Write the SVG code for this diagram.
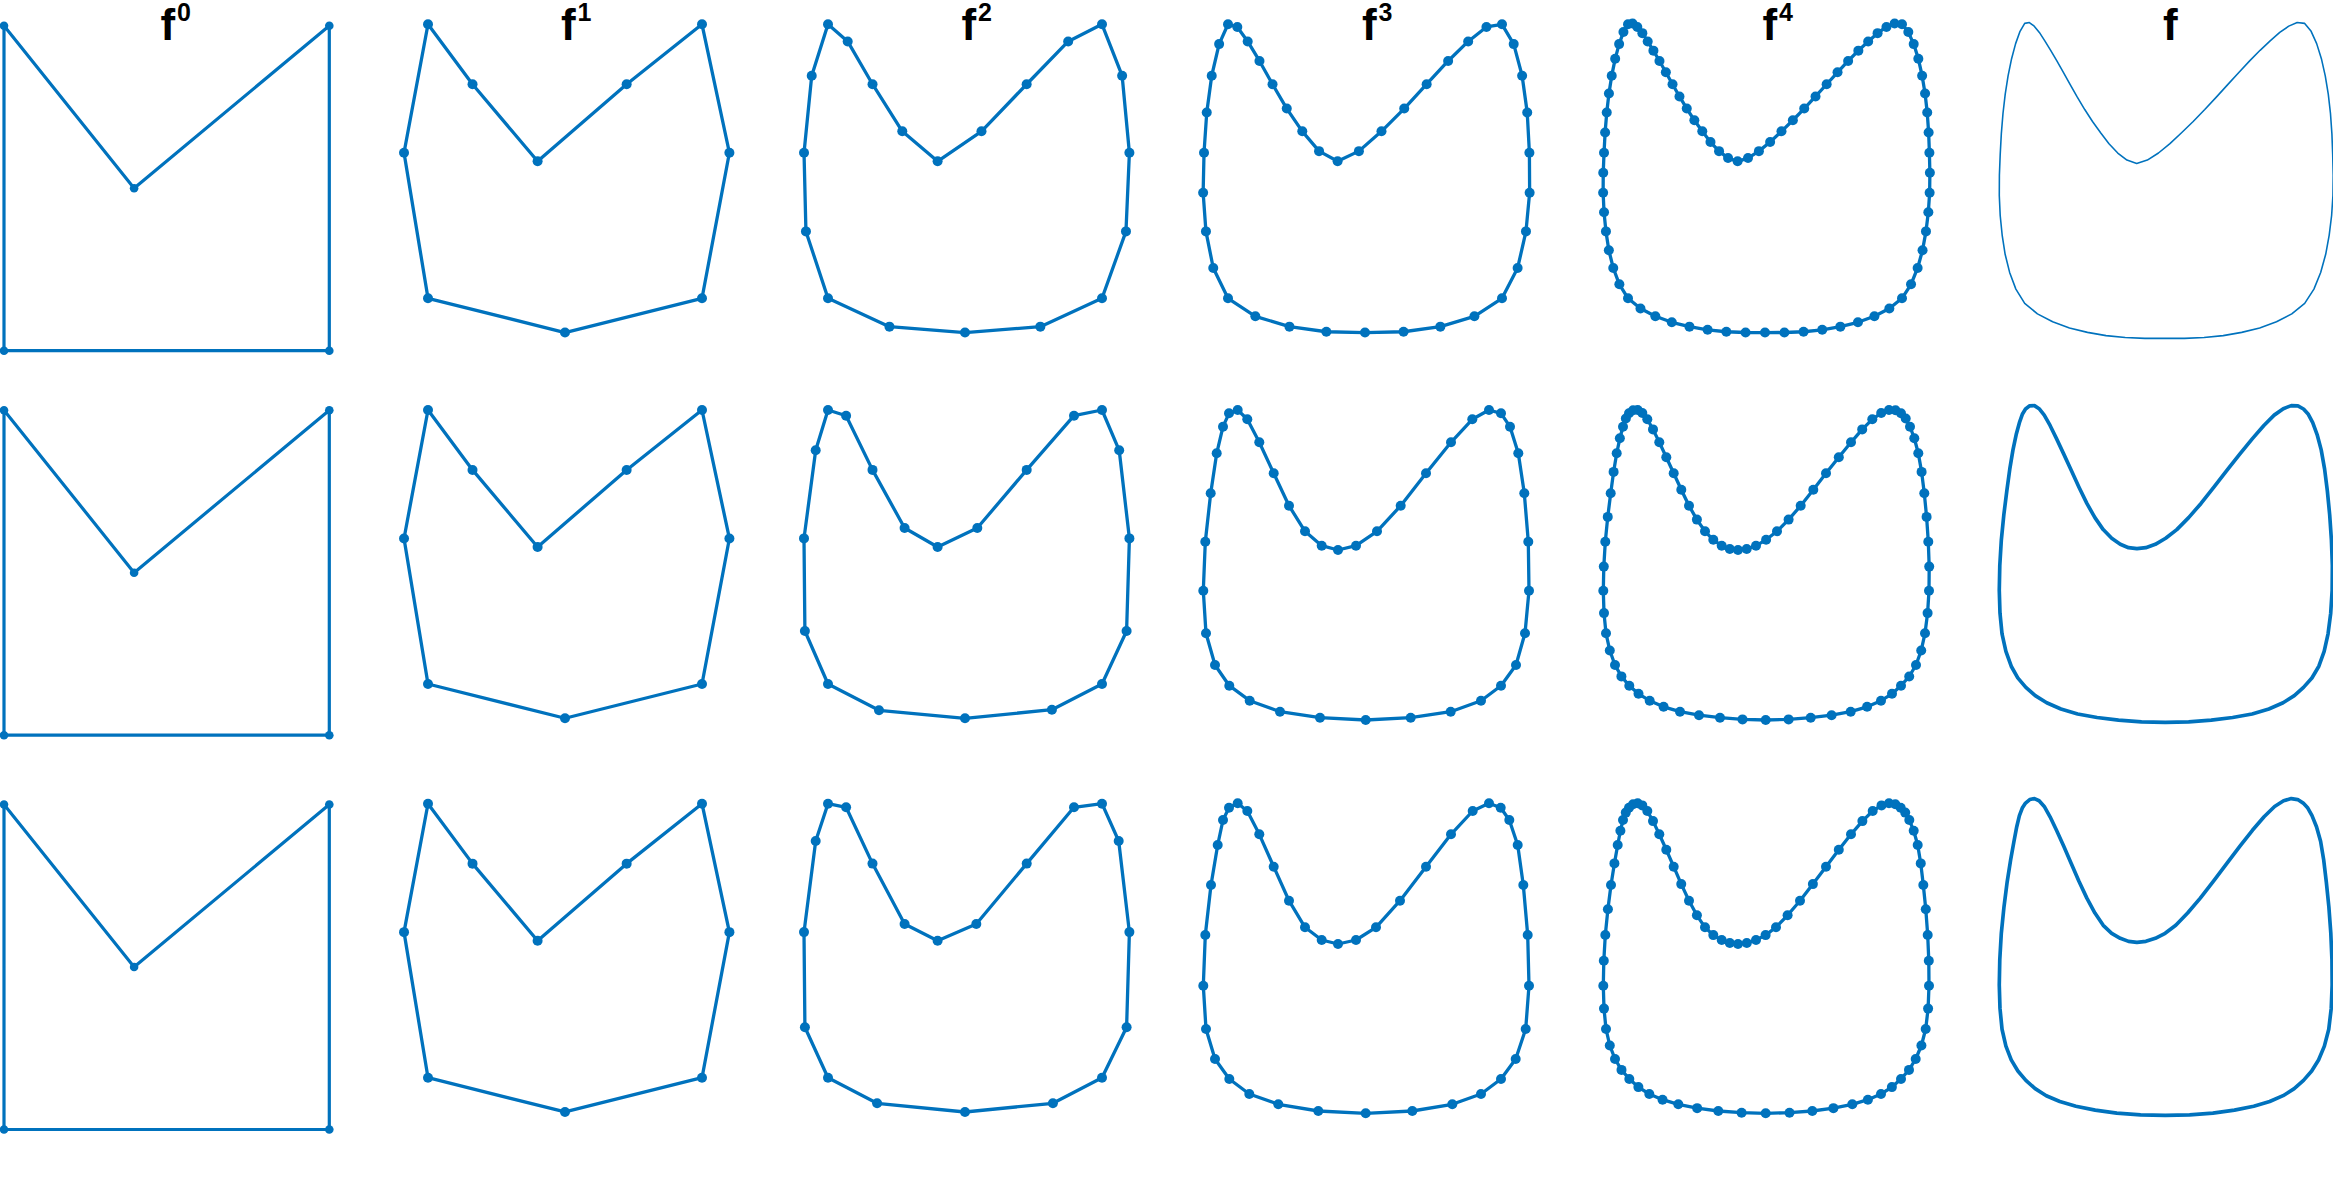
<svg xmlns="http://www.w3.org/2000/svg" width="2333" height="1200" viewBox="0 0 2333 1200">
<style>
.c0{fill:none;stroke:#0072BD;stroke-linejoin:round;stroke-width:3.2;marker-start:url(#d0);marker-mid:url(#d0)}
.c{fill:none;stroke:#0072BD;stroke-linejoin:round;stroke-width:3.3;marker-start:url(#dp);marker-mid:url(#dp)}
.cs{fill:none;stroke:#0072BD;stroke-linejoin:round;stroke-width:1.927;marker-start:url(#ds);marker-mid:url(#ds)}
.l1{fill:none;stroke:#0072BD;stroke-linejoin:round;stroke-width:0.9}
.l2{fill:none;stroke:#0072BD;stroke-linejoin:round;stroke-width:3.6}
.t{font-family:'Liberation Sans',Arial,Helvetica,sans-serif;font-weight:bold;fill:#000}
.big{font-size:44px}
.sup{font-size:25px}
</style>
<defs>
<marker id="d0" viewBox="0 0 12 12" refX="6" refY="6" markerWidth="12" markerHeight="12" markerUnits="userSpaceOnUse"><circle cx="6" cy="6" r="4.3" fill="#0072BD"/></marker>
<marker id="dp" viewBox="0 0 12 12" refX="6" refY="6" markerWidth="12" markerHeight="12" markerUnits="userSpaceOnUse"><circle cx="6" cy="6" r="5" fill="#0072BD"/></marker>
<marker id="ds" viewBox="0 0 12 12" refX="6" refY="6" markerWidth="7.007" markerHeight="7.007" markerUnits="userSpaceOnUse"><circle cx="6" cy="6" r="5" fill="#0072BD"/></marker>
<polygon id="p0" points="4,25.7 134.1,188.2 329.3,25.7 329.3,350.7 4,350.7"/>
<polygon id="p1" points="0,160 26,125 64,80 116,125 160,160 176,85 160,0 80,-20 0,0 -14,85"/>
<polygon id="p2" points="0,160 11.5,150 26,125 43.38,97.5 64,80 89.63,97.5 116,125 140.25,150 160,160 171.75,130 176,85 174,39.06 160,0 124,-16.56 80,-20 35.88,-16.56 0,0 -12.88,39.06 -14,85 -9.5,130"/>
<polygon id="p3" points="0,160 5.44,158.44 11.5,150 18.38,138.59 26,125 34.31,110.78 43.38,97.5 53.17,85.94 64,80 76.45,85.94 89.63,97.5 102.9,110.78 116,125 128.54,138.59 140.25,150 150.91,158.44 160,160 166.84,148.44 171.75,130 174.73,108.5 176,85 176.14,61.66 174,39.06 169.13,17.7 160,0 143.88,-10.51 124,-16.56 102.51,-19.53 80,-20 57.43,-19.53 35.88,-16.56 15.98,-10.51 0,0 -8.61,17.7 -12.88,39.06 -14.52,61.66 -14,85 -12.41,108.5 -9.5,130 -5.19,148.44"/>
<polygon id="p4" points="0,160 2.66,160.47 5.44,158.44 8.38,154.83 11.5,150 14.84,144.62 18.38,138.59 22.1,131.97 26,125 30.06,117.87 34.31,110.78 38.75,103.97 43.38,97.5 48.16,91.26 53.17,85.94 58.42,81.88 64,80 70.08,81.88 76.45,85.94 82.99,91.26 89.63,97.5 96.27,103.97 102.9,110.78 109.5,117.87 116,125 122.36,131.97 128.54,138.59 134.51,144.62 140.25,150 145.74,154.83 150.91,158.44 155.69,160.47 160,160 163.68,155.47 166.84,148.44 169.54,139.84 171.75,130 173.47,119.56 174.73,108.5 175.55,96.86 176,85 176.28,73.27 176.14,61.66 175.38,50.24 174,39.06 172,28.07 169.13,17.7 165.27,8.17 160,0 152.61,-5.98 143.88,-10.51 134.27,-14.01 124,-16.56 113.42,-18.4 102.51,-19.53 91.32,-19.98 80,-20 68.66,-19.98 57.43,-19.53 46.49,-18.4 35.88,-16.56 25.58,-14.01 15.98,-10.51 7.29,-5.98 0,0 -5.04,8.17 -8.61,17.7 -11.18,28.07 -12.88,39.06 -14,50.24 -14.52,61.66 -14.46,73.27 -14,85 -13.36,96.86 -12.41,108.5 -11.13,119.56 -9.5,130 -7.49,139.84 -5.19,148.44 -2.66,155.47"/>
<polygon id="q3b" points="29,13.3 37.7,10 47.3,19.3 59.3,42.3 73.7,73.3 89,105.7 105,131.3 121.7,145.7 138,150 156,145.7 177,131.3 200.7,105.7 226,73.3 251,42.3 272.3,19.3 289,10 301,13.3 310,26.7 318.3,53.3 324.3,93.3 328.3,141.7 329,190.7 325,233.3 316,265 301,285.7 281,300.7 250.7,311.7 210.7,317.7 165.7,320 120,317.7 80,311.7 49.7,300.7 29.3,285.7 15,265 6,233.3 3.3,190.7 5.3,141.7 10.7,93.3 16.7,53.3 23,26.7"/>
<polygon id="q4b" points="29,13.3 33.1,10.2 37.7,10 42.3,13 47.3,19.3 53,29.4 59.3,42.3 66.3,57.2 73.7,73.3 81.3,89.8 89,105.7 96.9,119.6 105,131.3 113.3,139.8 121.7,145.7 129.8,149 138,150 146.7,149 156,145.7 166.1,139.8 177,131.3 188.6,119.6 200.7,105.7 213.3,89.8 226,73.3 238.8,57.2 251,42.3 262.2,29.4 272.3,19.3 281.2,13 289,10 295.5,10.2 301,13.3 305.7,18.5 310,26.7 314.3,38.3 318.3,53.3 321.6,71.9 324.3,93.3 326.6,116.9 328.3,141.7 329.2,166.6 329,190.7 327.6,213.1 325,233.3 321.2,250.5 316,265 309.2,276.5 301,285.7 292,293.8 281,300.7 267.1,306.8 250.7,311.7 231.6,315.2 210.7,317.7 188.6,319.4 165.7,320 142.5,319.4 120,317.7 99,315.2 80,311.7 63.6,306.8 49.7,300.7 38.5,293.8 29.3,285.7 21.4,276.4 15,265 9.8,250.5 6,233.3 4,213.1 3.3,190.7 3.8,166.6 5.3,141.7 7.75,116.9 10.7,93.3 13.6,71.9 16.7,53.3 19.85,38.3 23,26.7 25.85,18.5"/>
<polygon id="q3c" points="29,17.7 37.7,13.3 47.3,21 59.3,44.3 73.7,76.7 89,110.7 105,137.3 121.7,150 138,154 156,150 176,137.3 200,110.7 226,76.7 251,44.3 272.7,21 289,13.3 300.7,17.7 309.3,30 317.7,55 323.3,95 327.7,145 329,195.7 325.7,239 315.7,269 301,289 281,304 252.3,314.3 212.3,321 165.7,323.3 118.3,321 78.3,314.3 49.3,304 29.3,289 15,269 6,239 3.3,195.7 5.3,145 11,95 17.7,55 23,30"/>
<polygon id="q4c" points="29,17.7 33.1,14.25 37.7,13.3 42.3,15.4 47.3,21 53,31.1 59.3,44.3 66.3,59.8 73.7,76.7 81.25,94.1 89,110.7 96.9,125.3 105,137.3 113.3,145.1 121.7,150 129.8,153 138,154 146.8,153 156,150 165.6,145.1 176,137.3 187.6,125.3 200,110.7 212.9,94.1 226,76.7 238.8,59.8 251,44.3 262.4,31.1 272.7,21 281.5,15.4 289,13.3 295.3,14.25 300.7,17.7 305.2,22.6 309.3,30 313.7,40.8 317.7,55 320.75,73.4 323.3,95 325.8,119.3 327.7,145 328.8,170.8 329,195.7 328.1,218.6 325.7,239 321.4,255.5 315.7,269 309,279.9 301,289 291.9,297.1 281,304 267.9,309.7 252.3,314.3 233.4,318.15 212.3,321 189.5,322.7 165.7,323.3 141.6,322.7 118.3,321 97.15,318.15 78.3,314.3 62.55,309.7 49.3,304 38.4,297.1 29.3,289 21.5,279.9 15,269 9.8,255.5 6,239 4,218.6 3.3,195.7 3.8,170.8 5.3,145 7.9,119.3 11,95 14.4,73.4 17.7,55 20.4,40.8 23,30 25.8,22.6"/>
</defs>
<g id="labels" class="t">
<text class="big" x="160.5" y="40">f</text><text class="sup" x="177" y="21">0</text>
<text class="big" x="561" y="40">f</text><text class="sup" x="577.5" y="21">1</text>
<text class="big" x="961.5" y="40">f</text><text class="sup" x="978" y="21">2</text>
<text class="big" x="1362" y="40">f</text><text class="sup" x="1378.5" y="21">3</text>
<text class="big" x="1762.5" y="40">f</text><text class="sup" x="1779" y="21">4</text>
<text class="big" x="2163" y="40">f</text>
</g>
<g id="row1">
<g id="r1-f0"><use href="#p0" class="c0"/></g>
<g id="r1-f1"><use href="#p1" class="cs" transform="translate(428,298.3) scale(1.7125,-1.7125)"/></g>
<g id="r1-f2"><use href="#p2" class="cs" transform="translate(828,298.3) scale(1.7125,-1.7125)"/></g>
<g id="r1-f3"><use href="#p3" class="cs" transform="translate(1228,298.3) scale(1.7125,-1.7125)"/></g>
<g id="r1-f4"><use href="#p4" class="cs" transform="translate(1628,298.3) scale(1.7125,-1.7125)"/></g>
<g id="r1-f"><use href="#p4" class="l1" transform="translate(2024.7,303.4) scale(1.75,-1.75)"/></g>
</g>
<g id="row2">
<g id="r2-f0"><use href="#p0" class="c0" transform="translate(0,384.5)"/></g>
<g id="r2-f1"><use href="#p1" class="cs" transform="translate(428,684) scale(1.7125,-1.7125)"/></g>
<g id="r2-f2"><polygon class="c" points="828,410 846.1,415.7 872.5,469.9 904.6,528 937.6,547 977.3,528 1026.7,469.9 1074,415.7 1102,410 1119.2,450.3 1129.4,538.4 1126.6,631 1102,684 1051.9,709.7 965,718.3 879,710.3 828,684 804.9,631 804,538.4 815.7,450.3"/></g>
<g id="r2-f3"><use href="#q3b" class="c" transform="translate(1200,400)"/></g>
<g id="r2-f4"><use href="#q4b" class="c" transform="translate(1600,400)"/></g>
<g id="r2-f"><use href="#q4b" class="l2" transform="translate(1995.9,395.4) scale(1.022)"/></g>
</g>
<g id="row3">
<g id="r3-f0"><use href="#p0" class="c0" transform="translate(0,778.8)"/></g>
<g id="r3-f1"><use href="#p1" class="cs" transform="translate(428,1077.7) scale(1.7125,-1.7125)"/></g>
<g id="r3-f2"><polygon class="c" points="828,803.7 846.1,807.3 872.5,863.6 904.6,924 937.6,940.7 976.3,924 1026.7,863.6 1074,807.3 1102,803.7 1118.7,841 1129.4,932.1 1126.6,1027.3 1102,1077.7 1052.9,1103.3 965,1112 877.1,1103.3 828,1077.7 804.9,1027.3 804,932.1 815.7,841"/></g>
<g id="r3-f3"><use href="#q3c" class="c" transform="translate(1200,790)"/></g>
<g id="r3-f4"><use href="#q4c" class="c" transform="translate(1600,790)"/></g>
<g id="r3-f"><use href="#q4c" class="l2" transform="translate(1995.9,785) scale(1.022)"/></g>
</g>
</svg>
